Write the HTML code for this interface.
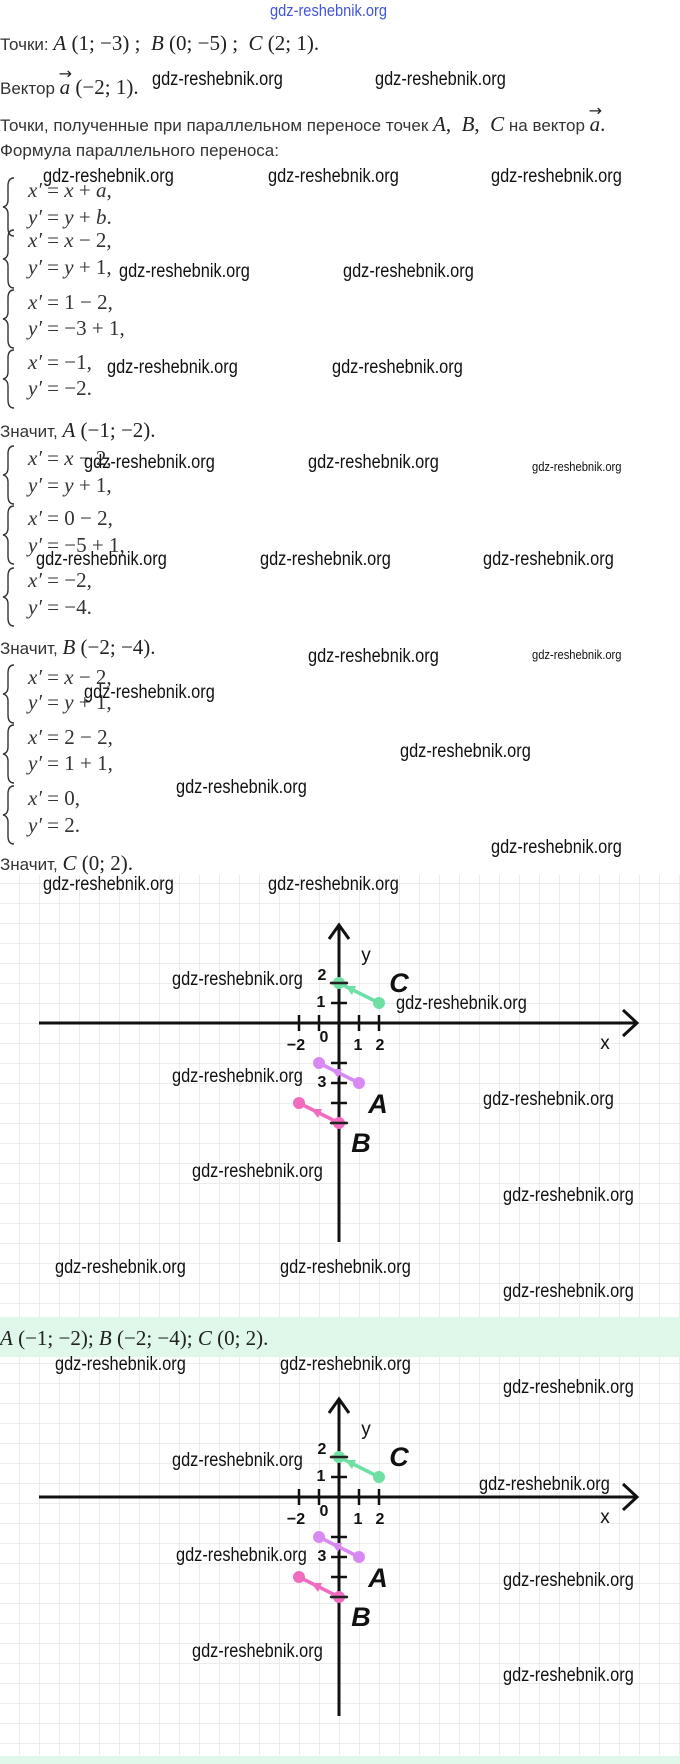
<!DOCTYPE html>
<html><head><meta charset="utf-8"><style>
body{margin:0;width:680px;height:1764px;background:#fff;position:relative;overflow:hidden;font-family:"Liberation Sans",sans-serif;}
.t{position:absolute;left:0;white-space:nowrap;font-size:17px;color:#333;line-height:24px;height:24px;}
.m{font-family:"Liberation Serif",serif;font-size:21px;color:#222;}
.m i{font-style:italic;}
.w{position:absolute;white-space:nowrap;font-family:"Liberation Sans",sans-serif;font-size:19px;color:#111;transform:scaleX(0.86);transform-origin:0 50%;line-height:22px;}
.ws{font-size:13px;}
.e{position:absolute;left:28px;white-space:nowrap;font-family:"Liberation Serif",serif;font-size:21px;color:#333;line-height:24px;}
.e i{font-style:italic;}
.v{position:relative;display:inline-block;}
.v b{position:absolute;left:-1px;top:-13px;font-weight:normal;font-size:16px;font-family:"DejaVu Sans",sans-serif;}
</style></head><body>

<div class="w" style="left:270px;top:0px;color:#4455dd;font-size:17px;">gdz-reshebnik.org</div>

<div class="t" style="top:31px">Точки: <span class="m"><i>A</i> (1; −3) ;&nbsp; <i>B</i> (0; −5) ;&nbsp; <i>C</i> (2; 1).</span></div>
<div class="t" style="top:75px">Вектор <span class="m"><span class="v"><i>a</i><b>→</b></span> (−2; 1).</span></div>
<div class="t" style="top:112px">Точки, полученные при параллельном переносе точек <span class="m"><i>A</i>, &nbsp;<i>B</i>, &nbsp;<i>C</i></span> на вектор <span class="m"><span class="v"><i>a</i><b>→</b></span>.</span></div>
<div class="t" style="top:139px">Формула параллельного переноса:</div>

<svg width="680" height="900" style="position:absolute;left:0;top:0" fill="none" stroke="#333" stroke-width="1.4">
<path d="M14,178 q-6,0 -6,8 v14 q0,6 -5,7 q5,1 5,7 v14 q0,8 6,8"/>
<path d="M14,230 q-6,0 -6,8 v14 q0,6 -5,7 q5,1 5,7 v14 q0,8 6,8"/>
<path d="M14,290 q-6,0 -6,8 v14 q0,6 -5,7 q5,1 5,7 v14 q0,8 6,8"/>
<path d="M14,350 q-6,0 -6,8 v14 q0,6 -5,7 q5,1 5,7 v14 q0,8 6,8"/>
<path d="M14,446 q-6,0 -6,8 v14 q0,6 -5,7 q5,1 5,7 v14 q0,8 6,8"/>
<path d="M14,506 q-6,0 -6,8 v14 q0,6 -5,7 q5,1 5,7 v14 q0,8 6,8"/>
<path d="M14,568 q-6,0 -6,8 v14 q0,6 -5,7 q5,1 5,7 v14 q0,8 6,8"/>
<path d="M14,665 q-6,0 -6,8 v14 q0,6 -5,7 q5,1 5,7 v14 q0,8 6,8"/>
<path d="M14,725 q-6,0 -6,8 v14 q0,6 -5,7 q5,1 5,7 v14 q0,8 6,8"/>
<path d="M14,786 q-6,0 -6,8 v14 q0,6 -5,7 q5,1 5,7 v14 q0,8 6,8"/>
</svg>

<div class="e" style="top:178px"><i>x′</i> = <i>x</i> + <i>a</i>,</div>
<div class="e" style="top:205px"><i>y′</i> = <i>y</i> + <i>b</i>.</div>
<div class="e" style="top:228px"><i>x′</i> = <i>x</i> − 2,</div>
<div class="e" style="top:255px"><i>y′</i> = <i>y</i> + 1,</div>
<div class="e" style="top:290px"><i>x′</i> = 1 − 2,</div>
<div class="e" style="top:316px"><i>y′</i> = −3 + 1,</div>
<div class="e" style="top:350px"><i>x′</i> = −1,</div>
<div class="e" style="top:376px"><i>y′</i> = −2.</div>
<div class="t" style="top:418px">Значит, <span class="m"><i>A</i> (−1; −2).</span></div>
<div class="e" style="top:446px"><i>x′</i> = <i>x</i> − 2,</div>
<div class="e" style="top:473px"><i>y′</i> = <i>y</i> + 1,</div>
<div class="e" style="top:506px"><i>x′</i> = 0 − 2,</div>
<div class="e" style="top:533px"><i>y′</i> = −5 + 1,</div>
<div class="e" style="top:568px"><i>x′</i> = −2,</div>
<div class="e" style="top:595px"><i>y′</i> = −4.</div>
<div class="t" style="top:635px">Значит, <span class="m"><i>B</i> (−2; −4).</span></div>
<div class="e" style="top:665px"><i>x′</i> = <i>x</i> − 2,</div>
<div class="e" style="top:690px"><i>y′</i> = <i>y</i> + 1,</div>
<div class="e" style="top:725px"><i>x′</i> = 2 − 2,</div>
<div class="e" style="top:751px"><i>y′</i> = 1 + 1,</div>
<div class="e" style="top:786px"><i>x′</i> = 0,</div>
<div class="e" style="top:813px"><i>y′</i> = 2.</div>
<div class="t" style="top:851px">Значит, <span class="m"><i>C</i> (0; 2).</span></div>

<div style="position:absolute;left:0;top:1317px;width:680px;height:40px;background:#dff8ea"></div>
<div class="t" style="top:1326px"><span class="m"><i>A</i> (−1; −2); <i>B</i> (−2; −4); <i>C</i> (0; 2).</span></div>
<div style="position:absolute;left:0;top:1756px;width:680px;height:8px;background:#dff8ea"></div>

<svg width="680" height="1764" style="position:absolute;left:0;top:0">
<defs>
<pattern id="g" x="339" y="3" width="20" height="20" patternUnits="userSpaceOnUse">
<path d="M0,0 V20 M0,0 H20" stroke="#e6e6e6" stroke-width="1.5" fill="none"/>
</pattern>
<g id="G">
<line x1="-300" y1="0" x2="298" y2="0" stroke="#111" stroke-width="3"/>
<polyline points="284,-13 298,0 284,13" fill="none" stroke="#111" stroke-width="3"/>
<line x1="0" y1="-98" x2="0" y2="219" stroke="#111" stroke-width="3"/>
<polyline points="-10,-84 0,-98 10,-84" fill="none" stroke="#111" stroke-width="3"/>
<g stroke="#111" stroke-width="2.5">
<line x1="-40" y1="-8" x2="-40" y2="8"/><line x1="-20" y1="-8" x2="-20" y2="8"/>
<line x1="20" y1="-8" x2="20" y2="8"/><line x1="40" y1="-8" x2="40" y2="8"/>
<line x1="-8" y1="-40" x2="8" y2="-40"/><line x1="-8" y1="-20" x2="8" y2="-20"/>
<line x1="-8" y1="40" x2="8" y2="40"/><line x1="-8" y1="60" x2="8" y2="60"/>
<line x1="-8" y1="80" x2="8" y2="80"/><line x1="-8" y1="100" x2="8" y2="100"/>
</g>
<g font-family="Liberation Sans,sans-serif" font-size="16" fill="#111" text-anchor="middle" font-weight="bold">
<text x="-43" y="27">−2</text><text x="-15" y="19">0</text><text x="19" y="27">1</text><text x="41" y="27">2</text>
<text x="-17" y="-43">2</text><text x="-18" y="-16">1</text><text x="-17" y="64">3</text>
</g>
<g font-family="Liberation Sans,sans-serif" font-size="19" fill="#111" text-anchor="middle">
<text x="27" y="-62">y</text><text x="266" y="26">x</text>
</g>
<g stroke-width="3.5" stroke-linecap="round">
<line x1="40" y1="-20" x2="2" y2="-39" stroke="#6fe0a4"/>
<polygon points="6,-37 17,-37 13,-28" fill="#6fe0a4"/>
<circle cx="40" cy="-20" r="6" fill="#6fe0a4" stroke="none"/>
<circle cx="0" cy="-40" r="6" fill="#6fe0a4" stroke="none"/>
<line x1="-8" y1="-40" x2="8" y2="-40" stroke="#222" stroke-width="2.5"/>
<line x1="20" y1="60" x2="-20" y2="40" stroke="#d98af2"/>
<circle cx="20" cy="60" r="6" fill="#d98af2" stroke="none"/>
<circle cx="-20" cy="40" r="6" fill="#d98af2" stroke="none"/>
<polygon points="-8,46 3,46 -1,55" fill="#d98af2"/>
<line x1="0" y1="100" x2="-40" y2="80" stroke="#f06cbf"/>
<circle cx="-40" cy="80" r="6" fill="#f06cbf" stroke="none"/>
<circle cx="0" cy="100" r="6" fill="#f06cbf" stroke="none"/>
<polygon points="-28,86 -17,86 -21,95" fill="#f06cbf"/>
<line x1="-8" y1="100" x2="8" y2="100" stroke="#222" stroke-width="2.5"/>
</g>
<g font-family="Liberation Sans,sans-serif" font-size="27" font-weight="bold" font-style="italic" fill="#111" text-anchor="middle">
<text x="60" y="-31">C</text><text x="39" y="90">A</text><text x="22" y="129">B</text>
</g>
</g>
</defs>
<rect x="0" y="875" width="680" height="442" fill="url(#g)"/>
<rect x="0" y="1357" width="680" height="398" fill="url(#g)"/>
<use href="#G" transform="translate(339,1023)"/>
<use href="#G" transform="translate(339,1497)"/>
</svg>

<div class="w" style="left:152px;top:69px">gdz-reshebnik.org</div>
<div class="w" style="left:375px;top:69px">gdz-reshebnik.org</div>
<div class="w" style="left:43px;top:166px">gdz-reshebnik.org</div>
<div class="w" style="left:268px;top:166px">gdz-reshebnik.org</div>
<div class="w" style="left:491px;top:166px">gdz-reshebnik.org</div>
<div class="w" style="left:119px;top:261px">gdz-reshebnik.org</div>
<div class="w" style="left:343px;top:261px">gdz-reshebnik.org</div>
<div class="w" style="left:107px;top:357px">gdz-reshebnik.org</div>
<div class="w" style="left:332px;top:357px">gdz-reshebnik.org</div>
<div class="w" style="left:84px;top:452px">gdz-reshebnik.org</div>
<div class="w" style="left:308px;top:452px">gdz-reshebnik.org</div>
<div class="w ws" style="left:532px;top:456px">gdz-reshebnik.org</div>
<div class="w" style="left:36px;top:549px">gdz-reshebnik.org</div>
<div class="w" style="left:260px;top:549px">gdz-reshebnik.org</div>
<div class="w" style="left:483px;top:549px">gdz-reshebnik.org</div>
<div class="w" style="left:308px;top:646px">gdz-reshebnik.org</div>
<div class="w ws" style="left:532px;top:644px">gdz-reshebnik.org</div>
<div class="w" style="left:84px;top:682px">gdz-reshebnik.org</div>
<div class="w" style="left:400px;top:741px">gdz-reshebnik.org</div>
<div class="w" style="left:176px;top:777px">gdz-reshebnik.org</div>
<div class="w" style="left:491px;top:837px">gdz-reshebnik.org</div>

<div class="w" style="left:43px;top:874px">gdz-reshebnik.org</div>
<div class="w" style="left:268px;top:874px">gdz-reshebnik.org</div>
<div class="w" style="left:172px;top:969px">gdz-reshebnik.org</div>
<div class="w" style="left:396px;top:993px">gdz-reshebnik.org</div>
<div class="w" style="left:172px;top:1066px">gdz-reshebnik.org</div>
<div class="w" style="left:483px;top:1089px">gdz-reshebnik.org</div>
<div class="w" style="left:192px;top:1161px">gdz-reshebnik.org</div>
<div class="w" style="left:503px;top:1185px">gdz-reshebnik.org</div>
<div class="w" style="left:55px;top:1257px">gdz-reshebnik.org</div>
<div class="w" style="left:280px;top:1257px">gdz-reshebnik.org</div>
<div class="w" style="left:503px;top:1281px">gdz-reshebnik.org</div>

<div class="w" style="left:55px;top:1354px">gdz-reshebnik.org</div>
<div class="w" style="left:280px;top:1354px">gdz-reshebnik.org</div>
<div class="w" style="left:503px;top:1377px">gdz-reshebnik.org</div>
<div class="w" style="left:172px;top:1450px">gdz-reshebnik.org</div>
<div class="w" style="left:479px;top:1474px">gdz-reshebnik.org</div>
<div class="w" style="left:176px;top:1545px">gdz-reshebnik.org</div>
<div class="w" style="left:503px;top:1570px">gdz-reshebnik.org</div>
<div class="w" style="left:192px;top:1641px">gdz-reshebnik.org</div>
<div class="w" style="left:503px;top:1665px">gdz-reshebnik.org</div>

</body></html>
